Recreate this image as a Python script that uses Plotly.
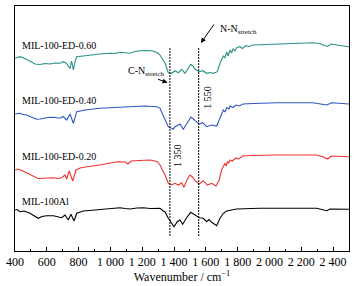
import plotly.graph_objects as go

# ---- data (wavenumber / cm-1, offset intensity a.u.) ----
wn_060 = [400, 431, 469, 494, 526, 557, 589, 620, 651, 683, 702, 721, 746, 756, 767, 777, 788, 828, 872, 934,
          997, 1029, 1060, 1092, 1123, 1154, 1186, 1230, 1268, 1293, 1312, 1343, 1364, 1385, 1406, 1427, 1448,
          1469, 1488, 1505, 1519, 1532, 1559, 1580, 1605, 1626, 1647, 1672, 1689, 1710, 1720, 1731, 1740, 1752,
          1762, 1772, 1783, 1795, 1815, 1830, 1850, 1870, 1896, 1940, 2047, 2192, 2273, 2318, 2336, 2366, 2387,
          2443, 2500]
y_060 = [192.7, 194.3, 192, 190, 187, 186.5, 187.5, 187, 188, 187.7, 189.3, 188, 182.7, 190, 181, 189, 194.3,
         195, 196, 197, 197.7, 197.5, 198.7, 198, 197.7, 199.5, 200.3, 200.5, 200, 198.5, 196, 188, 178.3, 177.7,
         180.3, 178.3, 181.7, 177.7, 183, 186.7, 185, 181.7, 179.3, 180.3, 177.7, 178.5, 177.7, 179.3, 187.7, 195,
         193, 199, 195, 201, 198, 202.5, 200, 203.5, 204.3, 202.5, 205.3, 204.5, 206, 206.3, 207, 207.5, 208.3,
         207.5, 206, 204.5, 207, 205.5, 204.3]

wn_040 = [400, 431, 450, 474, 501, 536, 557, 578, 607, 641, 683, 702, 725, 746, 767, 788, 840, 934, 1029, 1142,
          1217, 1293, 1312, 1330, 1343, 1355, 1364, 1395, 1406, 1427, 1437, 1458, 1479, 1505, 1519, 1532, 1559,
          1580, 1605, 1637, 1668, 1689, 1710, 1720, 1731, 1745, 1752, 1770, 1790, 1810, 1833, 1900, 2047, 2273,
          2318, 2360, 2391, 2443, 2500]
y_040 = [137, 137.7, 136.5, 136, 134, 131.7, 132, 132.7, 133.5, 133.7, 132.7, 134.5, 131, 137, 127.7, 139.3, 141,
         142.7, 143.5, 145, 145, 144.3, 142.7, 136, 131, 127.7, 124.3, 121.7, 124.3, 126, 127, 121.7, 127.7, 133.7,
         132.5, 130.3, 127, 128.3, 124.3, 126, 125, 132.7, 141, 139, 143.5, 142, 145, 143.5, 146, 145, 147, 147.5,
         148.3, 148.3, 147.5, 146, 148.3, 147.5, 147]

wn_020 = [400, 419, 450, 482, 515, 545, 578, 641, 670, 694, 714, 725, 741, 763, 784, 809, 851, 934, 1041, 1092,
          1110, 1129, 1186, 1249, 1293, 1312, 1343, 1364, 1385, 1406, 1427, 1448, 1462, 1481, 1500, 1516, 1532,
          1559, 1584, 1609, 1637, 1664, 1684, 1699, 1720, 1728, 1736, 1744, 1752, 1765, 1790, 1805, 1832, 1880,
          2041, 2292, 2335, 2366, 2387, 2443, 2500]
y_020 = [81, 82, 80, 77.5, 74.3, 72.5, 72.7, 73.3, 72.5, 73.3, 76, 72, 80, 70, 81, 83, 84.3, 86, 89.3, 89, 87, 90,
         90.5, 91, 89.5, 86, 76, 67.7, 66, 67.7, 66, 68.3, 63.7, 71, 76, 74, 70.3, 67, 70.3, 66, 67.7, 65, 71, 81,
         87.7, 85, 89.5, 88, 91, 90, 93, 92, 95, 95.5, 96, 96, 94.3, 92, 95, 94.8, 94.3]

wn_al = [400, 413, 431, 457, 494, 519, 546, 570, 599, 641, 670, 694, 714, 735, 752, 771, 788, 829, 903, 997, 1060,
         1092, 1123, 1167, 1207, 1249, 1291, 1312, 1332, 1343, 1364, 1385, 1400, 1420, 1437, 1454, 1479, 1505,
         1532, 1559, 1584, 1605, 1620, 1637, 1668, 1689, 1710, 1731, 1794, 1940, 2297, 2338, 2360, 2380, 2500]
y_al = [41, 41.5, 39.3, 40, 37.7, 35, 32.7, 34.5, 35.3, 35.3, 34.5, 33.3, 36, 31, 36.7, 30, 37.7, 40, 41, 42, 43.3,
        42.5, 42, 43, 43.3, 42.5, 42.7, 42.7, 40, 39.3, 32.7, 27.7, 24.3, 29.3, 31, 26.7, 33.3, 38.7, 36, 33.3,
        32.7, 29.3, 31.5, 28.7, 25.3, 32.7, 37.7, 40, 42, 42.7, 42.7, 41, 40.3, 42, 41.7]

series_names = ["MIL-100-ED-0.60", "MIL-100-ED-0.40", "MIL-100-ED-0.20", "MIL-100Al"]
series_colors = ["#2a9187", "#2f55c4", "#f2312c", "#000000"]

tick_vals = [400, 600, 800, 1000, 1200, 1400, 1600, 1800, 2000, 2200, 2400]
tick_text = ["400", "600", "800", "1 000", "1 200", "1 400", "1 600", "1 800", "2 000", "2 200", "2 400"]

line_wn = [1374, 1555]
line_labels = ["1 350", "1 550"]

FONT = "Liberation Serif, Times New Roman, serif"

fig = go.Figure()
for wn, yv, name, col in zip([wn_060, wn_040, wn_020, wn_al], [y_060, y_040, y_020, y_al],
                             series_names, series_colors):
    fig.add_trace(go.Scatter(x=wn, y=yv, mode="lines", name=name,
                             line=dict(color=col, width=1.1), showlegend=False))

# dashed reference lines
for xw in line_wn:
    fig.add_shape(type="line", xref="x", yref="y", x0=xw, x1=xw, y0=15, y1=204,
                  line=dict(color="black", width=1, dash="2px,1px"))

# series labels
label_y = [206, 151, 94.3, 49.3]
for name, ly in zip(series_names, label_y):
    fig.add_annotation(x=431, y=ly, xref="x", yref="y", text=name, showarrow=False,
                       xanchor="left", yanchor="middle", font=dict(family=FONT, size=10, color="black"))

# rotated wavenumber labels
fig.add_annotation(x=1418, y=96, xref="x", yref="y", text=line_labels[0], showarrow=False, textangle=-90,
                   font=dict(family=FONT, size=10, color="black"))
fig.add_annotation(x=1605, y=154, xref="x", yref="y", text=line_labels[1], showarrow=False, textangle=-90,
                   font=dict(family=FONT, size=10, color="black"))

# stretch labels
fig.add_annotation(x=1098, y=180, xref="x", yref="y", text="C-N<sub>stretch</sub>", showarrow=False,
                   xanchor="left", yanchor="middle", font=dict(family=FONT, size=10, color="black"))
fig.add_annotation(x=1674, y=222, xref="x", yref="y", text="N-N<sub>stretch</sub>", showarrow=False,
                   xanchor="left", yanchor="middle", font=dict(family=FONT, size=10, color="black"))

# arrows
fig.add_annotation(x=1359, y=168.3, xref="x", yref="y", text="", showarrow=True, ax=-11, ay=-4,
                   arrowhead=2, arrowsize=1, arrowwidth=1, arrowcolor="black")
fig.add_annotation(x=1569, y=208, xref="x", yref="y", text="", showarrow=True, ax=14, ay=-20,
                   arrowhead=2, arrowsize=1, arrowwidth=1, arrowcolor="black")

fig.update_layout(
    width=356, height=286,
    margin=dict(l=15, r=7, t=6, b=35, autoexpand=False),
    paper_bgcolor="white", plot_bgcolor="white",
    font=dict(family=FONT, size=12, color="black"),
)
fig.update_xaxes(range=[400, 2500], tickvals=tick_vals, ticktext=tick_text, ticks="inside", ticklen=4,
                 tickcolor="black", showline=True, linecolor="black", linewidth=1, mirror=True,
                 showgrid=False, zeroline=False, automargin=False,
                 minor=dict(dtick=100, tick0=400, ticks="inside", ticklen=2, tickcolor="black", showgrid=False),
                 title=dict(text="Wavenumber / cm<sup>−1</sup>", font=dict(family=FONT, size=12), standoff=0),
                 tickfont=dict(family=FONT, size=12))
fig.update_yaxes(range=[0, 245], showticklabels=False, ticks="", showline=True, linecolor="black", linewidth=1,
                 mirror=True, showgrid=False, zeroline=False, automargin=False)

fig.write_html("out.html", config={"displayModeBar": False},
               post_script="document.body.style.margin='0px';")
